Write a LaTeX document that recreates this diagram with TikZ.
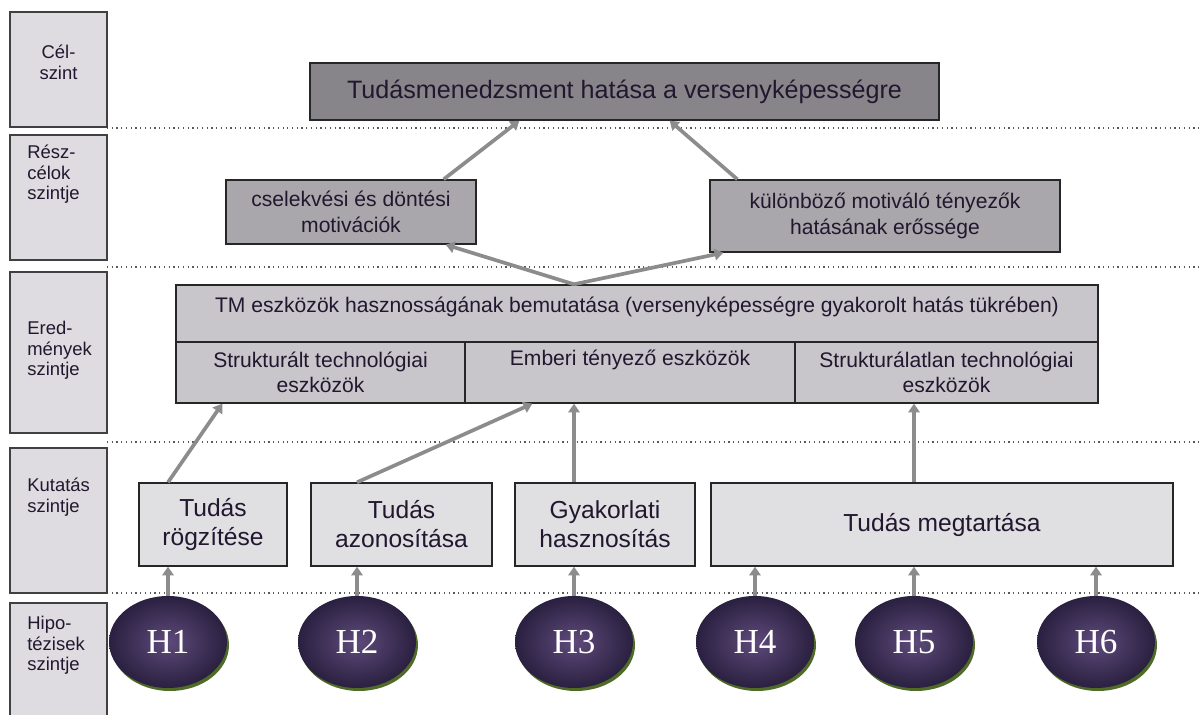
\documentclass[tikz,border=0pt]{standalone}
\usepackage{fontspec}
\setmainfont{Liberation Sans}
\newfontfamily\hypfont{Liberation Serif}
\usetikzlibrary{arrows.meta,shadows,shapes.geometric}

\definecolor{txtC}{HTML}{21172F}
\definecolor{lvlC}{HTML}{DEDCE0}
\definecolor{goalC}{HTML}{87858A}
\definecolor{subC}{HTML}{A9A7AB}
\definecolor{resC}{HTML}{C8C6CB}
\definecolor{kutC}{HTML}{E0DFE2}
\definecolor{hypIn}{HTML}{5E4A7B}
\definecolor{hypOut}{HTML}{2A2040}
\definecolor{shC}{HTML}{4F6B26}
\definecolor{arrC}{HTML}{8C8C8C}

\tikzstyle{lS}=[rectangle,draw=black!75,line width=0.6pt,fill=lvlC,inner sep=0pt]
\tikzstyle{lT}=[inner sep=0pt,align=left,text=txtC,font=\fontsize{10.5}{11.6}\selectfont]
\tikzstyle{gS}=[rectangle,draw=black!85,line width=0.8pt,fill=goalC,inner sep=0pt,text=txtC,font=\fontsize{14.3}{16}\selectfont]
\tikzstyle{sS}=[rectangle,draw=black!85,line width=0.8pt,fill=subC,inner sep=0pt,align=center,text=txtC,font=\fontsize{12}{14.5}\selectfont]
\tikzstyle{rS}=[rectangle,draw=black!85,line width=0.8pt,fill=resC,inner sep=0pt,align=center,text=txtC,font=\fontsize{12}{14}\selectfont]
\tikzstyle{kS}=[rectangle,draw=black!85,line width=0.8pt,fill=kutC,inner sep=0pt,align=center,text=txtC,font=\fontsize{14}{16.5}\selectfont]
\tikzstyle{hS}=[ellipse,minimum width=2.36cm,minimum height=1.84cm,inner sep=0pt,shading=radial,inner color=hypIn,outer color=hypOut,text=white,font=\hypfont\fontsize{20}{20}\selectfont,drop shadow={shadow xshift=0.04cm,shadow yshift=-0.06cm,fill=shC,opacity=1}]
\tikzstyle{aS}=[draw=arrC,line width=2.1pt,-{Triangle[width=6.5pt,length=5pt]}]
\tikzstyle{dS}=[draw=black!65,line width=0.7pt,dotted]

\begin{document}
\begin{tikzpicture}[x=0.02cm,y=-0.02cm]
    \useasboundingbox (0,0) rectangle (1200,715);
    % level separators
    \foreach \y in {128,267,442,593}
        \draw[dS] (107,\y) -- (1200,\y);
    % level boxes
    \draw (58.5,69.5) node[lS,minimum width=1.94cm,minimum height=2.30cm] (l1) {};
    \draw (58.5,197.5) node[lS,minimum width=1.94cm,minimum height=2.50cm] (l2) {};
    \draw (58.5,352.5) node[lS,minimum width=1.94cm,minimum height=3.22cm] (l3) {};
    \draw (58.5,520.5) node[lS,minimum width=1.94cm,minimum height=2.90cm] (l4) {};
    \draw (58.5,666.5) node[lS,minimum width=1.94cm,minimum height=2.54cm] (l5) {};
    \draw (58.5,45) node[lT,align=center,anchor=north] (t1) {Cél-\\szint};
    \draw (27,145) node[lT,anchor=north west] (t2) {Rész-\\célok\\szintje};
    \draw (27,321) node[lT,anchor=north west] (t3) {Ered-\\mények\\szintje};
    \draw (27,478) node[lT,anchor=north west] (t4) {Kutatás\\szintje};
    \draw (27,616) node[lT,anchor=north west] (t5) {Hipo-\\tézisek\\szintje};
    % goal
    \draw (624.5,91.5) node[gS,minimum width=12.58cm,minimum height=1.14cm] (g) {Tudásmenedzsment hatása a versenyképességre};
    % sub-goals
    \draw (351,212) node[sS,minimum width=5.0cm,minimum height=1.28cm] (s1) {cselekvési és döntési\\motivációk};
    \draw (885,216) node[sS,minimum width=7.0cm,minimum height=1.44cm] (s2) {különböző motiváló tényezők\\hatásának erőssége};
    % results
    \draw (637,313.5) node[rS,minimum width=18.44cm,minimum height=1.14cm,text height=9pt,text depth=10.6pt] (r0) {TM eszközök hasznosságának bemutatása (versenyképességre gyakorolt hatás tükrében)};
    \draw (320.5,372.5) node[rS,minimum width=5.78cm,minimum height=1.22cm] (r1) {Strukturált technológiai\\eszközök};
    \draw (630,372.5) node[rS,minimum width=6.60cm,minimum height=1.22cm,text height=9pt,text depth=17.5pt] (r2) {Emberi tényező eszközök};
    \draw (946.5,372.5) node[rS,minimum width=6.06cm,minimum height=1.22cm] (r3) {Strukturálatlan technológiai\\eszközök};
    % research
    \draw (213,524.5) node[kS,minimum width=2.96cm,minimum height=1.66cm] (k1) {Tudás\\rögzítése};
    \draw (401.5,524.5) node[kS,minimum width=3.62cm,minimum height=1.66cm] (k2) {Tudás\\azonosítása};
    \draw (605,524.5) node[kS,minimum width=3.60cm,minimum height=1.66cm] (k3) {Gyakorlati\\hasznosítás};
    \draw (942,524.5) node[kS,minimum width=9.24cm,minimum height=1.66cm] (k4) {Tudás megtartása};
    % hypotheses
    \draw (168,642) node[hS] (h1) {H1};
    \draw (357,642) node[hS] (h2) {H2};
    \draw (574,642) node[hS] (h3) {H3};
    \draw (755,642) node[hS] (h4) {H4};
    \draw (914,642) node[hS] (h5) {H5};
    \draw (1096,642) node[hS] (h6) {H6};
    \path
        (h1.north) edge[aS] (h1.north |- k1.south)
        (h2.north) edge[aS] (h2.north |- k2.south)
        (h3.north) edge[aS] (h3.north |- k3.south)
        (h4.north) edge[aS] (h4.north |- k4.south)
        (h5.north) edge[aS] (h5.north |- k4.south)
        (h6.north) edge[aS] (h6.north |- k4.south)
        (h1.north |- k1.north) edge[aS] ([xshift=0.94cm]r1.south west)
        (h2.north |- k2.north) edge[aS] ([xshift=1.36cm]r2.south west)
        (h3.north |- k3.north) edge[aS] (h3.north |- r2.south)
        (h5.north |- k4.north) edge[aS] (h5.north |- r3.south)
        (h3.north |- r0.north) edge[aS] ([xshift=-0.62cm]s1.south east)
        (h3.north |- r0.north) edge[aS] ([xshift=0.28cm]s2.south west)
        ([xshift=-0.66cm]s1.north east) edge[aS] ([xshift=4.2cm]g.south west)
        ([xshift=0.56cm]s2.north west) edge[aS] ([xshift=-5.4cm]g.south east)
    ;
\end{tikzpicture}
\end{document}
